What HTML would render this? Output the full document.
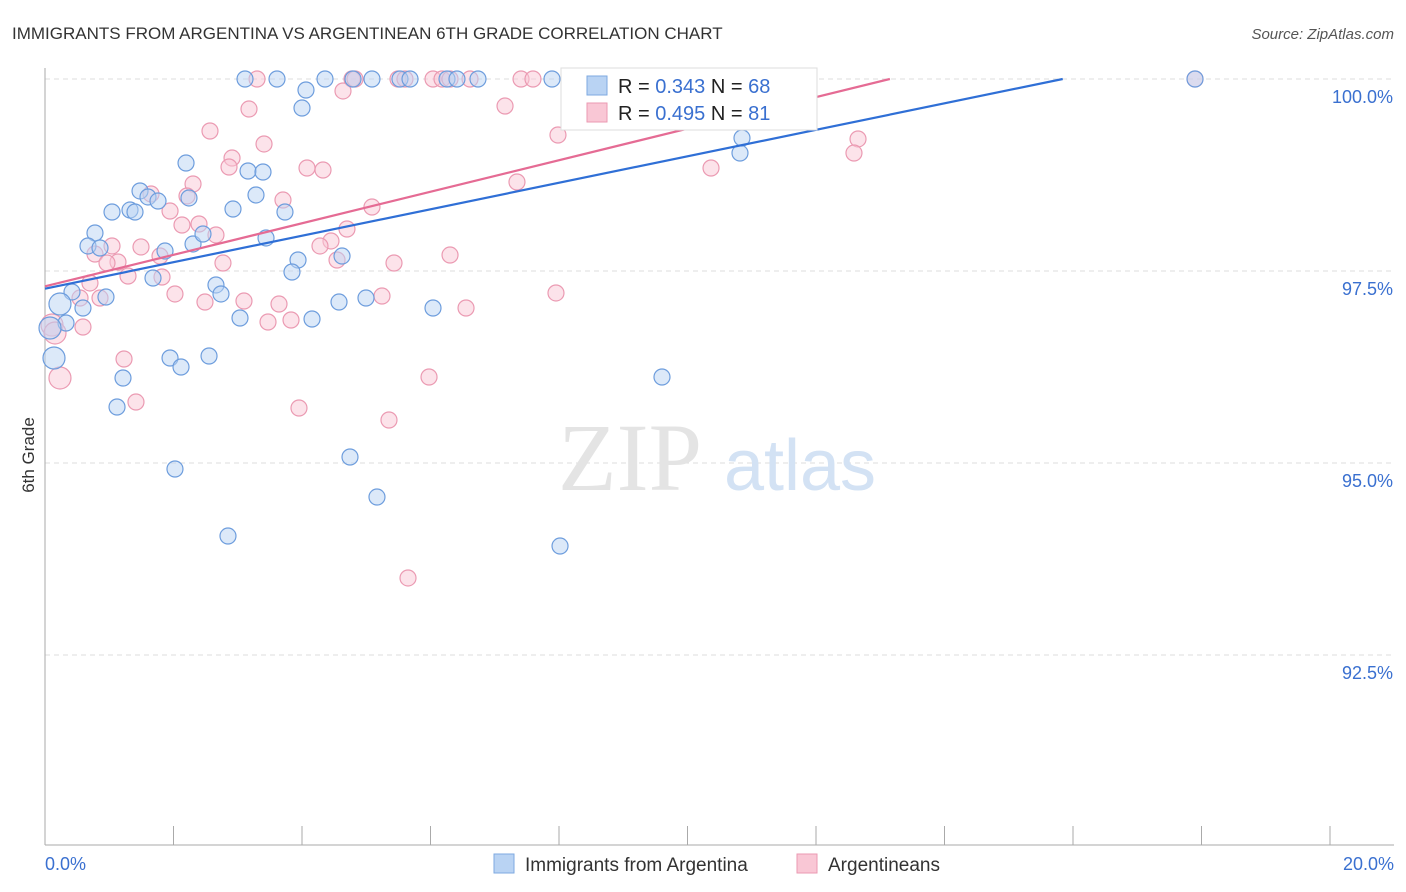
<!DOCTYPE html>
<html><head><meta charset="utf-8"><style>
body{margin:0;background:#fff;font-family:"Liberation Sans",sans-serif;}
svg{display:block}
</style></head><body>
<svg width="1406" height="892" viewBox="0 0 1406 892" xmlns="http://www.w3.org/2000/svg">
<text x="12" y="39" font-size="17" fill="#333">IMMIGRANTS FROM ARGENTINA VS ARGENTINEAN 6TH GRADE CORRELATION CHART</text>
<text x="1394" y="39" font-size="15" fill="#555" font-style="italic" text-anchor="end">Source: ZipAtlas.com</text>
<g id="grid"></g>
<text x="630" y="490" font-size="96" fill="#e4e4e4" font-family="Liberation Serif,serif" text-anchor="middle">ZIP</text>
<text x="800" y="490" font-size="72" fill="#d3e2f4" text-anchor="middle">atlas</text>
<g id="axes"></g>
<g id="pts"></g>
<g id="lines"></g>
<text x="34" y="455" font-size="17" fill="#333" transform="rotate(-90 34 455)" text-anchor="middle">6th Grade</text>
<g>
<rect x="561" y="68" width="256" height="62" fill="#fff" stroke="#ddd"/>
<rect x="587" y="76" width="20" height="19" fill="#b9d3f3" stroke="#7ea9e0"/>
<rect x="587" y="103" width="20" height="19" fill="#f9c7d5" stroke="#eb9ab2"/>
<text x="618" y="93" font-size="20" fill="#222">R = <tspan fill="#3a70d0">0.343</tspan>   N = <tspan fill="#3a70d0">68</tspan></text>
<text x="618" y="120" font-size="20" fill="#222">R = <tspan fill="#3a70d0">0.495</tspan>   N =  <tspan fill="#3a70d0">81</tspan></text>
</g>
<g>
<rect x="494" y="854" width="20" height="19" fill="#b9d3f3" stroke="#7ea9e0"/>
<text x="525" y="871" font-size="19" fill="#333">Immigrants from Argentina</text>
<rect x="797" y="854" width="20" height="19" fill="#f9c7d5" stroke="#eb9ab2"/>
<text x="828" y="871" font-size="19" fill="#333">Argentineans</text>
</g>
</svg>
<script>
const yTicks=[100,97.5,95,92.5];
const yTickLabels=["100.0%","97.5%","95.0%","92.5%"];
const xTicks=[0,2,4,6,8,10,12,14,16,18,20];
const bluePx=[[245,79],[277,79],[325,79],[353,79],[372,79],[400,79],[410,79],[447,79],[457,79],[478,79],[552,79],[1195,79],[306,90],[302,108],[186,163],[248,171],[263,172],[140,191],[148,197],[158,201],[112,212],[130,210],[135,212],[233,209],[256,195],[285,212],[95,233],[88,246],[100,248],[165,251],[193,244],[203,234],[266,238],[342,256],[298,260],[292,272],[153,278],[216,285],[221,294],[72,292],[106,297],[60,304],[83,308],[339,302],[366,298],[433,308],[240,318],[312,319],[66,323],[50,328],[54,358],[170,358],[209,356],[181,367],[123,378],[117,407],[662,377],[350,457],[175,469],[377,497],[228,536],[560,546],[740,153],[742,138],[189,198]];
const pinkPx=[[257,79],[352,79],[355,79],[398,79],[405,79],[433,79],[442,79],[450,79],[470,79],[521,79],[533,79],[572,79],[617,79],[630,79],[655,79],[1195,79],[343,91],[249,109],[505,106],[210,131],[264,144],[558,135],[232,158],[229,167],[307,168],[323,170],[858,139],[854,153],[711,168],[193,184],[187,196],[151,194],[170,211],[283,200],[372,207],[517,182],[182,225],[199,224],[216,235],[347,229],[331,241],[320,246],[112,246],[141,247],[95,254],[118,262],[107,263],[160,256],[223,263],[337,260],[394,263],[450,255],[162,277],[128,276],[90,283],[80,298],[100,298],[175,294],[205,302],[244,301],[279,304],[382,296],[556,293],[466,308],[268,322],[291,320],[83,327],[52,325],[55,333],[60,378],[124,359],[136,402],[429,377],[299,408],[389,420],[408,578]];
// convert reading to data units
const blueX=bluePx.map(p=>+((p[0]-45)/1285*20).toFixed(3));
const blueY=bluePx.map(p=>+(100-(p[1]-79)/192*2.5).toFixed(3));
const pinkX=pinkPx.map(p=>+((p[0]-45)/1285*20).toFixed(3));
const pinkY=pinkPx.map(p=>+(100-(p[1]-79)/192*2.5).toFixed(3));
const blueTrend=[[0,97.27],[15.84,100]];
const pinkTrend=[[0,97.3],[13.15,100]];
const NS="http://www.w3.org/2000/svg";
const sx=v=>45+v/20*1285, sy=v=>79+(100-v)/2.5*192;
function mk(t,a,p){const e=document.createElementNS(NS,t);for(const k in a)e.setAttribute(k,a[k]);p.appendChild(e);return e;}
const grid=document.getElementById('grid'),axes=document.getElementById('axes');
yTicks.forEach((v,i)=>{
 const l=mk('line',{x1:45,x2:1394,y1:sy(v),y2:sy(v),stroke:'#ddd','stroke-dasharray':'5,4'},grid);
 
 
 const t=mk('text',{x:1393,y:sy(v)+24,'font-size':18,fill:'#3a70d0','text-anchor':'end'},axes);
 t.textContent=yTickLabels[i];
 
 
});
const xa=mk('line',{x1:45,x2:1394,y1:845,y2:845,stroke:'#aaa'},axes);


const ya=mk('line',{x1:45,x2:45,y1:68,y2:845,stroke:'#aaa'},axes);


xTicks.forEach(v=>{
 const l=mk('line',{x1:sx(v),x2:sx(v),y1:826,y2:845,stroke:'#aaa'},axes);
 
 
});
[["0.0%",45,'start'],["20.0%",1394,'end']].forEach(d=>{
 const t=mk('text',{x:d[1],y:870,'font-size':18,fill:'#3a70d0','text-anchor':d[2]},axes);
 t.textContent=d[0];
 
 
});
const pts=document.getElementById('pts');
function draw(X,Y,fill,stroke,name){
 X.forEach((x,i)=>{
  const big=x<0.3;
  const c=mk('circle',{cx:sx(x),cy:sy(Y[i]),r:big?11:8,fill:fill,'fill-opacity':0.5,stroke:stroke,'stroke-width':1.2},pts);
  
  
 });
}
draw(pinkX,pinkY,'#f9c7d5','#eb9ab2','point-argentineans');
draw(blueX,blueY,'#b9d3f3','#6d9ddd','point-immigrants-argentina');
const lines=document.getElementById('lines');
const bl=mk('line',{x1:sx(blueTrend[0][0]),y1:sy(blueTrend[0][1]),x2:sx(blueTrend[1][0]),y2:sy(blueTrend[1][1]),stroke:'#2f6fd6','stroke-width':2.2},lines);


const pl=mk('line',{x1:sx(pinkTrend[0][0]),y1:sy(pinkTrend[0][1]),x2:sx(pinkTrend[1][0]),y2:sy(pinkTrend[1][1]),stroke:'#e56b94','stroke-width':2.2},lines);


</script>
</body></html>
